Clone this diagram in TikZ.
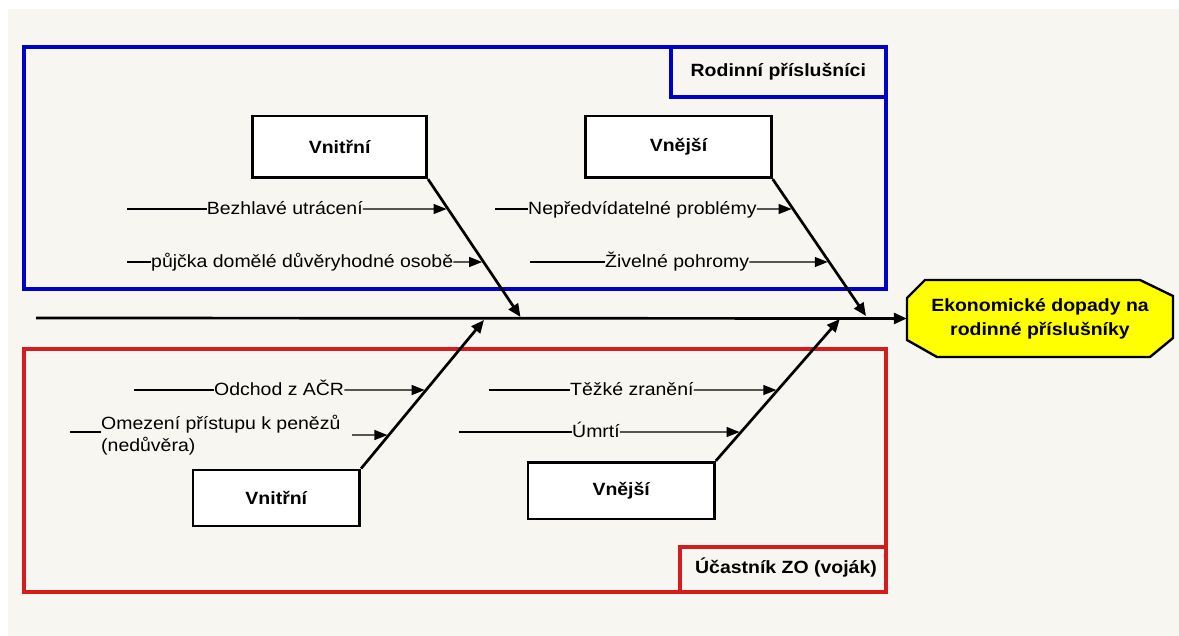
\documentclass[tikz,border=0pt]{standalone}
\usepackage{fontspec}
\setmainfont[FakeStretch=1.1]{Liberation Sans}
\usetikzlibrary{arrows.meta,calc}
\definecolor{cream}{RGB}{248,246,240}
\definecolor{fblue}{RGB}{0,0,200}
\definecolor{fred}{RGB}{212,28,28}
\definecolor{goalyellow}{RGB}{255,255,0}
\begin{document}
\begin{tikzpicture}[x=1pt,y=-1pt,
  lab/.style={font=\fontsize{17.7}{21}\selectfont, inner sep=0pt, anchor=base west},
  cbox/.style={draw=black, line width=2.8pt, fill=white, inner sep=0pt,
    font=\fontsize{17.7}{21}\selectfont\bfseries},
  ttl/.style={font=\fontsize{17.7}{21}\selectfont\bfseries, inner sep=0pt},
  thin/.style={line width=1.3pt},
  arr/.style={thin, -{Triangle[length=13pt,width=10pt]}},
  dia/.style={line width=2.7pt, -{Triangle[length=13pt,width=11pt]}},
  grp/.style={line width=3.8pt}]
\useasboundingbox (0,0) rectangle (1179,636);
\fill[white] (0,0) rectangle (1179,636);
\fill[cream] (8,9) rectangle (1179,636);

% group frames
\draw[grp, draw=fblue] (23.7,46.7) rectangle (886,289);
\draw[grp, draw=fblue] (670.7,46.7) rectangle (886,96.7);
\node[ttl] (rp) at (778.3,72) {Rodinní příslušníci};
\draw[grp, draw=fred] (23.7,349.3) rectangle (885.6,591.7);
\draw[grp, draw=fred] (680,546.7) rectangle (885.6,591.7);
\node[ttl] (zo) at (786,567.5) {Účastník ZO (voják)};

% cause boxes
\node[cbox, minimum width=174pt, minimum height=61.7pt] (v1) at (339.6,146.9) {Vnitřní};
\node[cbox, minimum width=185.6pt, minimum height=61.7pt] (v2) at (678.5,146.9) {Vnější};
\node[cbox, minimum width=166.7pt, minimum height=56pt] (v3) at (276.3,498) {Vnitřní};
\node[cbox, minimum width=186.5pt, minimum height=56.7pt] (v4) at (621.2,490.6) {Vnější};

% goal (octagon)
\fill[goalyellow, draw=black, line width=2.4pt]
  (907,298) -- (925,280) -- (1140,280) -- (1173,296) -- (1173,338)
  -- (1150,357) -- (937,357) -- (907,340) -- cycle;
\node[ttl, align=center, font=\fontsize{17.7}{24}\selectfont\bfseries,
  minimum width=266pt, minimum height=77pt] (goal) at (1040,318.5)
  {Ekonomické dopady na\\rodinné příslušníky};

% spine
\coordinate (sp0) at (36,318);
\draw[line width=2.7pt, -{Triangle[length=13pt,width=11pt]}] (sp0) -- (goal.west);

% diagonal bones
\coordinate (d1a) at (v1.south east);
\coordinate (d1b) at (520.5,317);
\coordinate (d2a) at (v2.south east);
\coordinate (d2b) at (866,316);
\coordinate (d3a) at (v3.north east);
\coordinate (d3b) at (484,320);
\coordinate (d4a) at (v4.north east);
\coordinate (d4b) at (839.8,319);
\draw[dia] (d1a) -- (d1b);
\draw[dia] (d2a) -- (d2b);
\draw[dia] (d3a) -- (d3b);
\draw[dia] (d4a) -- (d4b);

% helper coordinates for rows
\coordinate (r1) at (1000,209);
\coordinate (r2) at (1000,262);
\coordinate (r3) at (1000,390);
\coordinate (r4) at (1000,432);
\coordinate (r5) at (1000,435);

% top-left causes
\coordinate (s1) at (127,209);
\node[lab] (t1) at (206.7,214.5) {Bezhlavé utrácení};
\coordinate (e1) at (intersection of d1a--d1b and s1--r1);
\draw[thin] (s1) -- (s1 -| t1.west);
\draw[arr, shorten >=1.5pt] (t1.east |- s1) -- (e1);

\coordinate (s2) at (127,262);
\node[lab] (t2) at (151,267.5) {půjčka domělé důvěryhodné osobě};
\coordinate (e2) at (intersection of d1a--d1b and s2--r2);
\draw[thin] (s2) -- (s2 -| t2.west);
\draw[arr, shorten >=1.5pt] (t2.east |- s2) -- (e2);

% top-right causes
\coordinate (s3) at (495,209);
\node[lab] (t3) at (528,214.5) {Nepředvídatelné problémy};
\coordinate (e3) at (intersection of d2a--d2b and s3--r1);
\draw[thin] (s3) -- (s3 -| t3.west);
\draw[arr, shorten >=1.5pt] (t3.east |- s3) -- (e3);

\coordinate (s4) at (530,262);
\node[lab] (t4) at (605,267.5) {Živelné pohromy};
\coordinate (e4) at (intersection of d2a--d2b and s4--r2);
\draw[thin] (s4) -- (s4 -| t4.west);
\draw[arr, shorten >=1.5pt] (t4.east |- s4) -- (e4);

% bottom-left causes
\coordinate (s5) at (134,390);
\node[lab] (t5) at (214,395.5) {Odchod z AČR};
\coordinate (e5) at (intersection of d3a--d3b and s5--r3);
\draw[thin] (s5) -- (s5 -| t5.west);
\draw[arr, shorten >=1.5pt] (t5.east |- s5) -- (e5);

\coordinate (s6) at (70,432);
\node[lab] (t6) at (101,429) {Omezení přístupu k penězů};
\node[lab] (t6b) at (101,451) {(nedůvěra)};
\draw[thin] (s6) -- (s6 -| t6.west);
\coordinate (o6) at (352,435);
\coordinate (e6) at (intersection of d3a--d3b and o6--r5);
\draw[arr, shorten >=1.5pt] (o6) -- (e6);

% bottom-right causes
\coordinate (s7) at (489,390);
\node[lab] (t7) at (570,395.5) {Těžké zranění};
\coordinate (e7) at (intersection of d4a--d4b and s7--r3);
\draw[thin] (s7) -- (s7 -| t7.west);
\draw[arr, shorten >=1.5pt] (t7.east |- s7) -- (e7);

\coordinate (s8) at (459,432);
\node[lab] (t8) at (572,437.5) {Úmrtí};
\coordinate (e8) at (intersection of d4a--d4b and s8--r4);
\draw[thin] (s8) -- (s8 -| t8.west);
\draw[arr, shorten >=1.5pt] (t8.east |- s8) -- (e8);
\end{tikzpicture}
\end{document}
